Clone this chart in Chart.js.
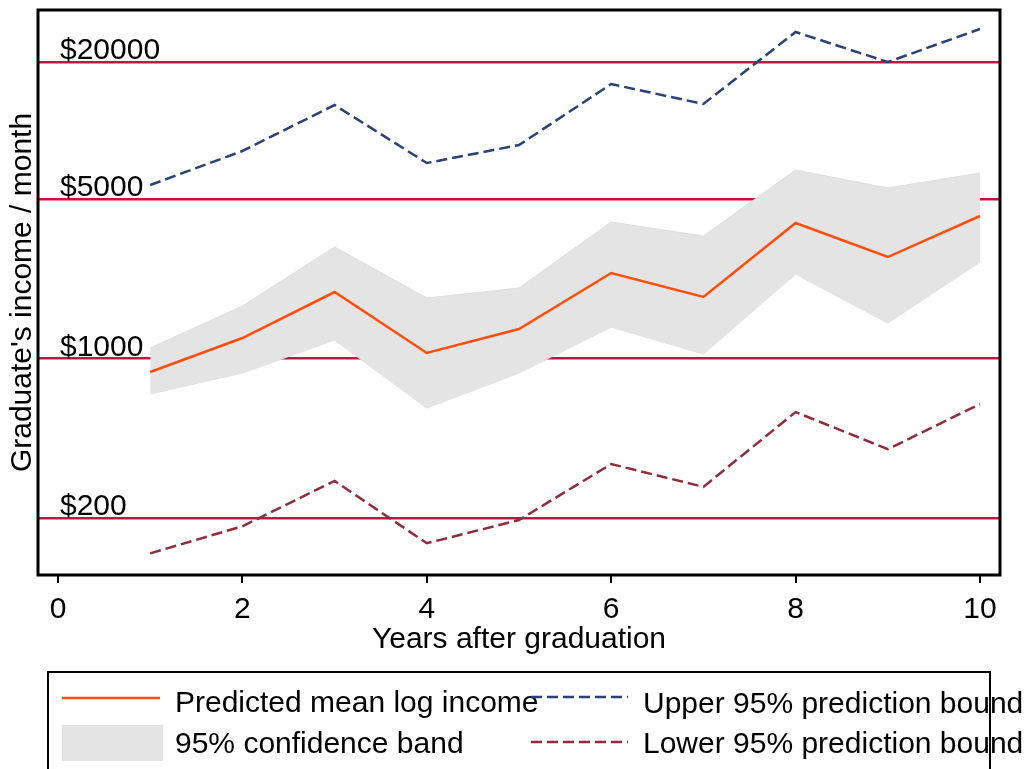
<!DOCTYPE html>
<html lang="en">
<head>
  <meta charset="UTF-8" />
  <title>Graduate income after graduation</title>
  <script src="https://cdn.jsdelivr.net/npm/chart.js"></script>
  <style>
    html, body { margin: 0; padding: 0; background: #ffffff; }
    #wrap { width: 1026px; height: 769px; }
  </style>
</head>
<body>
  <div id="wrap"><canvas id="chart" width="1026" height="769"></canvas></div>

  <script>
    // values (dollars / month)
    const years = [1, 2, 3, 4, 5, 6, 7, 8, 9, 10];
    const meanIncome = [874, 1232, 1960, 1059, 1349, 2375, 1864, 3934, 2791, 4223];
    const bandHigh = [1113, 1701, 3088, 1845, 2041, 3973, 3450, 6721, 5603, 6521];
    const bandLow = [700, 865, 1207, 607, 865, 1376, 1048, 2351, 1433, 2653];
    const upperBound = [5774, 8144, 12954, 7211, 8650, 16011, 13088, 27078, 20000, 27912];
    const lowerBound = [140, 184, 291, 155, 196, 345, 274, 583, 401, 632];
    const incomeLines = [200, 1000, 5000, 20000];
    const xTicks = [0, 2, 4, 6, 8, 10];

    const FONT = '"Liberation Sans", Arial, sans-serif';
    const RED = '#c8123e';
    const ORANGE = '#ff4d0a';
    const NAVY = '#2a4274';
    const MAROON = '#8e2d3c';
    const BAND = '#e4e4e4';
    const DASH = [11, 5];

    const pts = arr => years.map((x, i) => ({ x: x, y: arr[i] }));

    // frame, $ labels and the boxed legend
    const decor = {
      id: 'decor',
      afterDraw(chart) {
        const ctx = chart.ctx;
        const a = chart.chartArea;
        const y = chart.scales.y;
        ctx.save();
        ctx.fillStyle = '#000';
        ctx.font = '30px ' + FONT;
        ctx.textBaseline = 'alphabetic';
        ctx.textAlign = 'left';
        incomeLines.forEach(v => {
          ctx.fillText('$' + v, 60, y.getPixelForValue(v) - 3);
        });

        ctx.strokeStyle = '#000';
        ctx.lineWidth = 3;
        ctx.strokeRect(a.left, a.top, a.right - a.left, a.bottom - a.top);

        // legend
        ctx.lineWidth = 2;
        ctx.strokeRect(48, 672, 942, 120);

        ctx.fillStyle = BAND;
        ctx.fillRect(62, 725, 101, 36);

        ctx.lineWidth = 2.5;
        ctx.strokeStyle = ORANGE;
        ctx.beginPath(); ctx.moveTo(62, 698); ctx.lineTo(160, 698); ctx.stroke();

        ctx.fillStyle = '#000';
        ctx.fillText('Predicted mean log income', 175, 712);
        ctx.fillText('95% confidence band', 175, 753);

        ctx.setLineDash(DASH);
        ctx.strokeStyle = NAVY;
        ctx.beginPath(); ctx.moveTo(531, 697); ctx.lineTo(628, 697); ctx.stroke();
        ctx.strokeStyle = MAROON;
        ctx.beginPath(); ctx.moveTo(531, 742); ctx.lineTo(628, 742); ctx.stroke();
        ctx.setLineDash([]);

        ctx.fillText('Upper 95% prediction bound', 643, 713);
        ctx.fillText('Lower 95% prediction bound', 643, 753);
        ctx.restore();
      }
    };

    const ctx = document.getElementById('chart').getContext('2d');
    const chart = new Chart(ctx, {
      type: 'line',
      data: {
        datasets: [
          { label: 'Predicted mean log income', data: pts(meanIncome), borderColor: ORANGE, borderWidth: 2.5 },
          { label: 'Upper 95% prediction bound', data: pts(upperBound), borderColor: NAVY, borderWidth: 2.5, borderDash: DASH },
          { label: 'Lower 95% prediction bound', data: pts(lowerBound), borderColor: MAROON, borderWidth: 2.5, borderDash: DASH },
          { label: '95% confidence band', data: pts(bandHigh), borderColor: '#dddddd', borderWidth: 1, backgroundColor: BAND, fill: '+1' },
          { label: 'band low', data: pts(bandLow), borderColor: '#dddddd', borderWidth: 1, fill: false }
        ]
      },
      options: {
        responsive: false,
        animation: false,
        devicePixelRatio: 1,
        elements: { point: { radius: 0 }, line: { tension: 0 } },
        layout: { padding: { top: 10, right: 26, bottom: 114, left: 0 } },
        plugins: { legend: { display: false }, tooltip: { enabled: false } },
        scales: {
          x: {
            type: 'linear',
            min: -0.217,
            max: 10.217,
            afterBuildTicks: s => { s.ticks = xTicks.map(v => ({ value: v })); },
            border: { display: false },
            grid: { drawOnChartArea: false, drawTicks: true, tickLength: 8, color: '#000', lineWidth: 2 },
            ticks: { color: '#000', padding: 9, maxRotation: 0, font: { family: FONT, size: 30, lineHeight: 1.2 } },
            title: {
              display: true,
              text: 'Years after graduation',
              color: '#000',
              font: { family: FONT, size: 30, lineHeight: 1 },
              padding: { top: -12, bottom: 0 }
            }
          },
          y: {
            type: 'logarithmic',
            min: 112.5,
            max: 33820,
            afterBuildTicks: s => { s.ticks = incomeLines.map(v => ({ value: v })); },
            border: { display: false },
            grid: { drawTicks: false, color: RED, lineWidth: 2.5 },
            ticks: { display: false },
            title: {
              display: true,
              text: "Graduate's income / month",
              color: '#000',
              font: { family: FONT, size: 30, lineHeight: 1 },
              padding: { top: 8, bottom: 0 }
            }
          }
        }
      },
      plugins: [decor]
    });
  </script>
</body>
</html>
